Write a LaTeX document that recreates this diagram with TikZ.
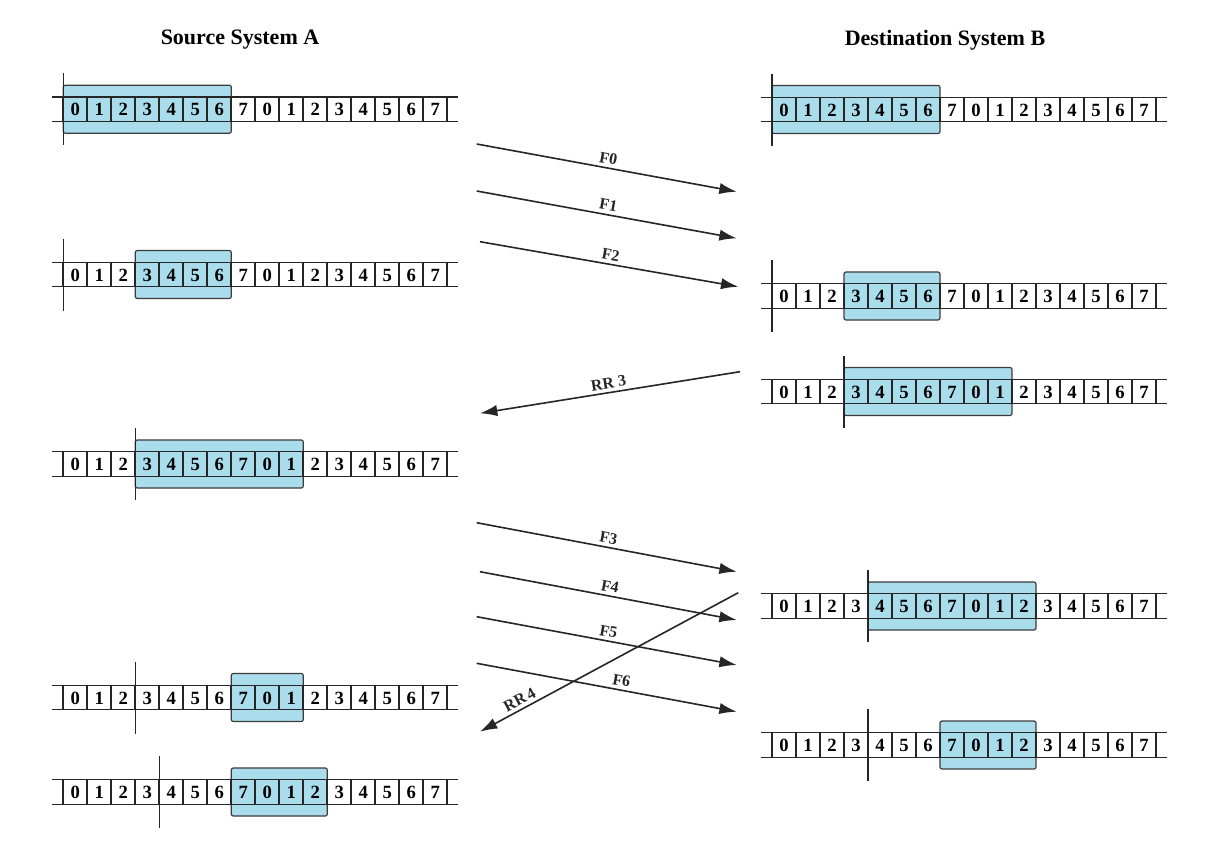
\documentclass[tikz,border=0pt]{standalone}
\usepackage{fontspec}
\setmainfont{Liberation Serif}
\usetikzlibrary{arrows.meta}
\definecolor{winblue}{RGB}{170,221,236}
\definecolor{winedge}{RGB}{60,60,60}
\tikzset{
 window/.style={fill=winblue, draw=winedge, line width=0.9pt, rounded corners=1.5pt},
 rail/.style={line width=0.9pt, black!85},
 sep/.style={line width=1.4pt, black!85},
 pointer/.style={line width=1.1pt, black!85},
 digit/.style={font=\fontsize{14}{14}\selectfont\bfseries, inner sep=0pt},
 msg/.style={line width=1.2pt, black!85, -{Latex[length=13pt,width=8.5pt]}},
 ack/.style={line width=1.2pt, black!85, {Latex[length=13pt,width=8.5pt]}-},
 msglabel/.style={font=\fontsize{12}{12}\selectfont\bfseries, above, sloped, inner sep=2.5pt},
 title/.style={font=\fontsize{16.5}{16.5}\selectfont\bfseries}
}
\newcommand{\seqrow}[6]{%
 \begin{scope}[shift={(#1,#2)}]
  \path[window] ({#4*24},-24) rectangle ({(#5+1)*24},24);
  \draw[rail] (-11,-12.25) -- (395,-12.25) (-11,12.25) -- (395,12.25);
  \foreach \i in {0,...,16} \draw[sep] ({\i*24},-12.25) -- ({\i*24},12.25);
  \foreach \i [evaluate=\i as \d using {int(mod(\i,8))}] in {0,...,15}
    \node[digit] (#6-\i) at ({\i*24+12},0.5) {\d};
  \draw[pointer] ({#3*24},-36) -- ({#3*24},36);
 \end{scope}}
\begin{document}
\begin{tikzpicture}[x=0.75pt,y=-0.75pt]
\useasboundingbox[fill=white] (0,0) rectangle (1225,854);
\node[title] (ta) at (240,40) {Source System A};
\node[title] (tb) at (945,40) {Destination System B};
\seqrow{63.3}{109.2}{0}{0}{6}{a1}
\seqrow{63.3}{274.5}{0}{3}{6}{a2}
\seqrow{63.3}{464}{3}{3}{9}{a3}
\seqrow{63.3}{697.5}{3}{7}{9}{a4}
\seqrow{63.3}{792}{4}{7}{10}{a5}
\seqrow{772}{109.5}{0}{0}{6}{b1}
\seqrow{772}{296}{0}{3}{6}{b2}
\seqrow{772}{391.5}{3}{3}{9}{b3}
\seqrow{772}{606}{4}{4}{10}{b4}
\seqrow{772}{745}{4}{7}{10}{b5}
% message end points
\coordinate (f0s) at (476.7,144);   \coordinate (f0e) at (736.7,191.7);
\coordinate (f1s) at (476.7,191);   \coordinate (f1e) at (736.7,238.3);
\coordinate (f2s) at (480,241.7);   \coordinate (f2e) at (738.3,286.7);
\coordinate (r3s) at (740,371.7);   \coordinate (r3e) at (480,413.3);
\coordinate (f3s) at (476.7,522.7); \coordinate (f3e) at (736.7,571.7);
\coordinate (f4s) at (480,571.7);   \coordinate (f4e) at (736.7,620);
\coordinate (f5s) at (476.7,616.7); \coordinate (f5e) at (736.7,665);
\coordinate (f6s) at (476.7,663.3); \coordinate (f6e) at (736.7,711.7);
\coordinate (r4s) at (738.3,592.7); \coordinate (r4e) at (480,731.7);
\draw[msg] (f0s) -- (f0e) node[msglabel, midway] {F0};
\draw[msg] (f1s) -- (f1e) node[msglabel, midway] {F1};
\draw[msg] (f2s) -- (f2e) node[msglabel, midway] {F2};
\draw[ack] (r3e) -- (r3s) node[msglabel, midway] {RR 3};
\draw[msg] (f3s) -- (f3e) node[msglabel, midway] {F3};
\draw[msg] (f4s) -- (f4e) node[msglabel, midway] {F4};
\draw[msg] (f5s) -- (f5e) node[msglabel, midway] {F5};
\draw[msg] (f6s) -- (f6e) node[msglabel, pos=0.55] {F6};
\draw[ack] (r4e) -- (r4s) node[msglabel, pos=0.17] {RR\,4};
\end{tikzpicture}
\end{document}
